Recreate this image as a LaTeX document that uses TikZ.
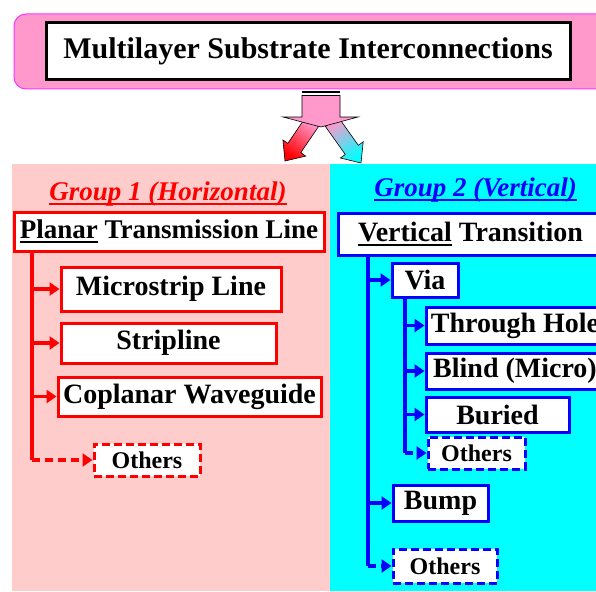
\documentclass[tikz,border=0pt]{standalone}
\usepackage{fontspec}
\setmainfont{Liberation Serif}
\usetikzlibrary{arrows.meta}
\definecolor{bannerpink}{HTML}{FF99CC}
\definecolor{bannerline}{HTML}{FF33FF}
\definecolor{leftbg}{HTML}{FFCCCC}
\definecolor{rightbg}{HTML}{00FFFF}
\newcommand\myul[1]{\setbox0\hbox{#1}\rlap{\rule[-5pt]{\wd0}{2.5pt}}\box0\relax}
\tikzset{
  box/.style={draw, fill=white, line width=3pt, inner sep=0pt, align=center,
    font=\fontsize{28}{30}\bfseries\selectfont},
  rbox/.style={box, draw=red},
  bbox/.style={box, draw=blue},
  othbox/.style={box, dash pattern=on 8pt off 4pt,
    font=\fontsize{24}{26}\bfseries\selectfont},
  rline/.style={draw=red, line width=3.2pt},
  bline/.style={draw=blue, line width=3.2pt},
  rarr/.style={rline, -{Triangle[length=10pt,width=13pt]}},
  barr/.style={bline, -{Triangle[length=10pt,width=13pt]}},
  grp/.style={anchor=base, font=\fontsize{27}{30}\bfseries\itshape\selectfont},
}
\begin{document}
\begin{tikzpicture}[x=1pt,y=-1pt]
\useasboundingbox (0,0) rectangle (596,591);
% panels
\fill[leftbg] (12,164) rectangle (330,591);
\fill[rightbg] (330,164) rectangle (596,591);
% banner
\draw[bannerline, fill=bannerpink, line width=1pt, rounded corners=12pt] (14,14) rectangle (610,89);
\node[box, draw=black, line width=3pt, minimum width=524pt, minimum height=57pt,
  font=\fontsize{30}{32}\bfseries\selectfont] (title) at (308,51.5) {Multilayer Substrate Interconnections};
% split arrow
\shade[draw=black, line width=0.6pt, top color=bannerpink, bottom color=red, shading angle=-35]
  (305.5,117.4) -- (318.5,126.6) -- (300.8,152.6) -- (305.7,156.1) -- (285,161) -- (282.9,139.9) -- (287.8,143.4) -- cycle;
\shade[draw=black, line width=0.6pt, top color=bannerpink, bottom color=rightbg, shading angle=35]
  (338.5,117.4) -- (358.3,145.3) -- (363.2,141.8) -- (361,163) -- (340.4,158) -- (345.3,154.5) -- (325.5,126.6) -- cycle;
\fill[black] (302,91) rectangle (340,93.5);
\filldraw[fill=bannerpink, draw=black, line width=0.6pt]
  (302,95.5) -- (340,95.5) -- (340,117) -- (358,117) -- (321,127) -- (283,117) -- (302,117) -- cycle;
% group titles
\node[grp, text=red] (g1) at (168,200) {\myul{Group 1 (Horizontal)}};
\node[grp, text=blue] (g2) at (475.5,196) {\myul{Group 2 (Vertical)}};
% left boxes
\node[rbox, minimum width=310pt, minimum height=39pt, font=\fontsize{27}{30}\bfseries\selectfont] (planar) at (169,231.5) {\myul{Planar} Transmission Line};
\node[rbox, minimum width=220pt, minimum height=44pt] (micro) at (171,289) {Microstrip Line};
\node[rbox, minimum width=215pt, minimum height=40pt] (strip) at (168.5,343) {Stripline};
\node[rbox, minimum width=263pt, minimum height=39pt] (cpw) at (189.5,396.5) {Coplanar Waveguide};
\node[rbox, othbox, minimum width=106pt, minimum height=32pt] (othL) at (147,460) {Others};
% right boxes
\node[bbox, minimum width=265pt, minimum height=42pt] (vert) at (470.5,234) {\myul{Vertical} Transition};
\node[bbox, minimum width=66pt, minimum height=34pt] (via) at (425,280) {Via};
\node[bbox, minimum width=178pt, minimum height=37pt] (thru) at (515,325.5) {Through Hole};
\node[bbox, minimum width=178pt, minimum height=36pt] (blind) at (515,371) {Blind (Micro)};
\node[bbox, minimum width=143pt, minimum height=35pt] (buried) at (497.5,414.5) {Buried};
\node[bbox, othbox, minimum width=97pt, minimum height=32pt] (othV) at (476.5,453) {Others};
\node[bbox, minimum width=95pt, minimum height=36pt] (bump) at (440.5,503) {Bump};
\node[bbox, othbox, minimum width=104pt, minimum height=34pt] (othR) at (445,566) {Others};
% left connectors
\coordinate (tL) at (32,0);
\draw[rline] (tL |- planar.south) -- (tL |- othL.west);
\draw[rarr] (tL |- micro.west) -- (micro.west);
\draw[rarr] (tL |- strip.west) -- (strip.west);
\draw[rarr] (tL |- cpw.west) -- (cpw.west);
\draw[rarr, dash pattern=on 8pt off 5pt] (tL |- othL.west) -- (othL.west);
% right connectors
\coordinate (tR) at (368,0);
\coordinate (tV) at (405,0);
\draw[bline] (tR |- vert.south) -- (tR |- othR.west);
\draw[barr] (tR |- via.west) -- (via.west);
\draw[barr] (tR |- bump.west) -- (bump.west);
\draw[barr, dash pattern=on 8pt off 5pt] (tR |- othR.west) -- (othR.west);
\draw[bline] (tV |- via.south) -- (tV |- othV.west);
\draw[barr] (tV |- thru.west) -- (thru.west);
\draw[barr] (tV |- blind.west) -- (blind.west);
\draw[barr] (tV |- buried.west) -- (buried.west);
\draw[barr, dash pattern=on 8pt off 5pt] (tV |- othV.west) -- (othV.west);
\end{tikzpicture}
\end{document}
